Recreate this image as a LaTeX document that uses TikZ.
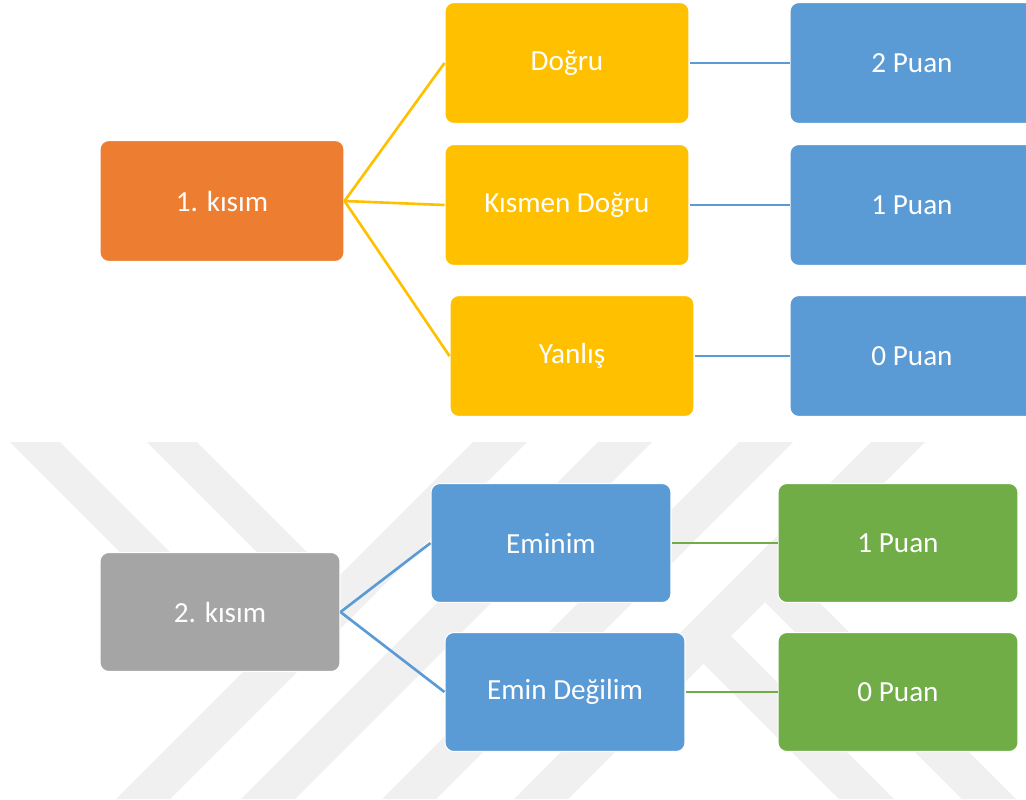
\documentclass[tikz,border=0pt]{standalone}
\usepackage{fontspec}
\setmainfont{Carlito}

\definecolor{turuncu}{HTML}{ED7D31}
\definecolor{sari}{HTML}{FFC000}
\definecolor{mavi}{HTML}{5B9BD5}
\definecolor{gri}{HTML}{A5A5A5}
\definecolor{yesil}{HTML}{70AD47}
\definecolor{filigran}{HTML}{F0F0F0}

\begin{document}
\begin{tikzpicture}[x=0.02cm,y=-0.02cm,
  kutu/.style={draw=white,line width=0.6pt,rounded corners=5pt,text=white,
    font=\fontsize{16.6}{20}\selectfont,inner sep=0pt,
    minimum width=4.88cm,minimum height=2.42cm},
  altkutu/.style={kutu,minimum width=4.8cm,minimum height=2.38cm},
  bag/.style={line width=1.5pt}]
\clip (0,0) rectangle (1026,799);
\fill[white] (0,0) rectangle (1026,799);

% faint stripes behind the second part
\foreach \x in {473,598,739,871}
  \fill[filigran] (\x,442) -- (\x+54,442) -- (\x-303,799) -- (\x-357,799) -- cycle;
\foreach \x in {10,147}
  \fill[filigran] (\x,442) -- (\x+50,442) -- (\x+188,580) -- (\x+138,580) -- cycle;
\fill[filigran] (700,660) -- (727,632) -- (894,799) -- (839,799) -- cycle;
\fill[filigran] (765,602) -- (792,575) -- (1016,799) -- (962,799) -- cycle;

% 1. kisim
\node[kutu,fill=turuncu] (k1) at (222,201) {1. kısım};
\node[kutu,fill=sari] (dogru) at (567,63) {Doğru};
\node[kutu,fill=sari] (kismen) at (567,205) {Kısmen Doğru};
\node[kutu,fill=sari] (yanlis) at (572,356) {Yanlış};
\node[kutu,fill=mavi] (p2) at (912,63) {2 Puan};
\node[kutu,fill=mavi] (p1) at (912,205) {1 Puan};
\node[kutu,fill=mavi] (p0) at (912,356) {0 Puan};

\draw[bag,sari] (k1.east) -- (dogru.west);
\draw[bag,sari] (k1.east) -- (kismen.west);
\draw[bag,sari] (k1.east) -- (yanlis.west);
\draw[bag,mavi] (dogru) -- (p2);
\draw[bag,mavi] (kismen) -- (p1);
\draw[bag,mavi] (yanlis) -- (p0);

% 2. kisim
\node[altkutu,fill=gri] (k2) at (220,612) {2. kısım};
\node[altkutu,fill=mavi] (eminim) at (551,543) {Eminim};
\node[altkutu,fill=mavi] (degilim) at (565,692) {Emin Değilim};
\node[altkutu,fill=yesil] (q1) at (898,543) {1 Puan};
\node[altkutu,fill=yesil] (q0) at (898,692) {0 Puan};

\draw[bag,mavi] (k2.east) -- (eminim.west);
\draw[bag,mavi] (k2.east) -- (degilim.west);
\draw[bag,yesil] (eminim) -- (q1);
\draw[bag,yesil] (degilim) -- (q0);
\end{tikzpicture}
\end{document}
